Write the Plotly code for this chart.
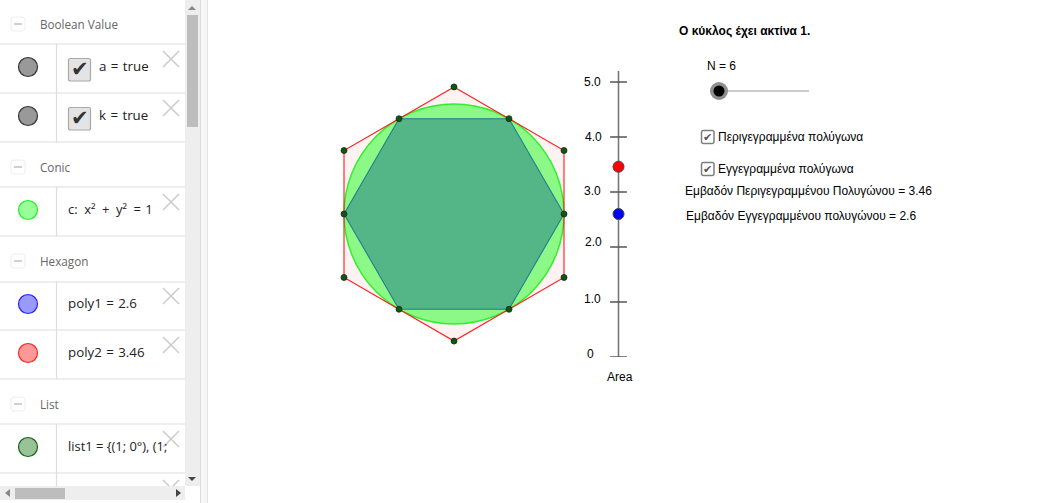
import plotly.graph_objects as go

# ---- data ----
radius = [1]
inner_x = [1, 0.5, -0.5, -1, -0.5, 0.5]
inner_y = [0, 0.866, 0.866, 0, -0.866, -0.866]
outer_x = [0, 1, 1, 0, -1, -1]
outer_y = [1.155, 0.577, -0.577, -1.155, -0.577, 0.577]
area_ticks = [0, 1, 2, 3, 4, 5]
area_tick_labels = ["0", "1.0", "2.0", "3.0", "4.0", "5.0"]
area_inscribed = [2.6]
area_circumscribed = [3.46]
area_axis_end = [0, 5.2]

section_titles = ["Boolean Value", "Conic", "Hexagon", "List"]
row_texts = ["a\u2004=\u2004true", "k\u2004=\u2004true", "c:\u2002x²\u2002+\u2002y²\u2002=\u20041",
             "poly1\u2004=\u20042.6", "poly2\u2004=\u20043.46", "list1 = {(1; 0°), (1;"]
panel_title = "Ο κύκλος έχει ακτίνα 1."
slider_label = "N = 6"
check_labels = ["Περιγεγραμμένα πολύγωνα", "Εγγεγραμμένα πολύγωνα"]
area_texts = ["Εμβαδόν Περιγεγραμμένου Πολυγώνου = 3.46", "Εμβαδόν Εγγεγραμμένου πολυγώνου = 2.6"]

# ---- layout constants (pixels) ----
W, H = 1042, 503
tick_label_px = [(590, 354), (592, 299), (593, 242), (592, 191), (593, 137), (592, 82)]
section_y = [23.5, 166.5, 260.5, 403.5]
row_y = [67, 116, 210, 304, 353, 447]
row_text_x = [99, 99, 68, 68, 68, 68]
row_text_size = [13.3, 13.3, 13, 13.3, 13.3, 12.9]
marble_fill = ["#999999", "#999999", "#99ff99", "#9999ff", "#ff9999", "#99c299"]
marble_line = ["#333333", "#333333", "#22ee22", "#2222ff", "#ff2222", "#116611"]
sep_y = [44, 93, 142, 187, 236, 282, 330, 379, 424, 473]
vsep = [(44, 142), (187, 236), (282, 379), (424, 486)]
cross_y = [59, 108, 202, 296, 345, 439]

shapes = []
ann = []


def rect(x0, y0, x1, y1, fill, line=None, lw=0):
    shapes.append(dict(type="rect", xref="x", yref="y", x0=x0, y0=y0, x1=x1, y1=y1,
                       fillcolor=fill, line=dict(color=line or fill, width=lw), layer="below"))


def rrect(x0, y0, x1, y1, r, fill, line, lw=1):
    p = (f"M{x0+r},{y0} L{x1-r},{y0} Q{x1},{y0} {x1},{y0+r} L{x1},{y1-r} Q{x1},{y1} {x1-r},{y1} "
         f"L{x0+r},{y1} Q{x0},{y1} {x0},{y1-r} L{x0},{y0+r} Q{x0},{y0} {x0+r},{y0} Z")
    shapes.append(dict(type="path", path=p, xref="x", yref="y", fillcolor=fill,
                       line=dict(color=line, width=lw), layer="below"))


def seg(x0, y0, x1, y1, color, w=1):
    shapes.append(dict(type="line", xref="x", yref="y", x0=x0, y0=y0, x1=x1, y1=y1,
                       line=dict(color=color, width=w), layer="below"))


def tri(pts, color):
    p = "M" + " L".join(f"{a},{b}" for a, b in pts) + " Z"
    shapes.append(dict(type="path", path=p, xref="x", yref="y", fillcolor=color,
                       line=dict(width=0), layer="below"))


def label(x, y, text, size, color="#000000", family="Liberation Sans", anchor="left"):
    ann.append(dict(xref="x", yref="y", x=x, y=y, text=text, showarrow=False, xanchor=anchor,
                    yanchor="middle", font=dict(size=size, color=color, family=family),
                    borderpad=0, borderwidth=0))


# ---- side panel ----
rect(185, 0, 200, 486, "#eeeeee")
rect(0, 486, 185, 500, "#eeeeee")
rect(201, 0, 207, H, "#f7f7f7")
seg(200.5, 0, 200.5, H, "#dddddd")
seg(207.5, 0, 207.5, H, "#e4e4e4")
rect(187, 15, 198, 127, "#bdbdbd")
rect(15, 488, 65, 499, "#bdbdbd")
tri([(188, 10), (196, 10), (192, 6)], "#888888")
tri([(188, 477), (196, 477), (192, 481)], "#444444")
tri([(10, 489), (10, 497), (5, 493)], "#888888")
tri([(176, 489), (176, 497), (181, 493)], "#444444")

for y in sep_y:
    seg(0, y, 185, y, "#dddddd", 1.2)
for a, b in vsep:
    seg(56.5, a, 56.5, b, "#dddddd", 1.2)
for y in cross_y:
    seg(163, y - 8, 179, y + 8, "#cccccc", 1.6)
    seg(179, y - 8, 163, y + 8, "#cccccc", 1.6)
seg(163, 480, 169, 486, "#cccccc", 1.6)
seg(179, 480, 173, 486, "#cccccc", 1.6)

for t, y in zip(section_titles, section_y):
    rrect(11, y - 6.5, 25, y + 7.5, 3, "#ffffff", "#eeeeee", 1)
    seg(14, y + 0.5, 22, y + 0.5, "#c4c4c4", 1.6)
    label(40, y, t, 11.7, "#666666", "Open Sans")

for y, f, l in zip(row_y, marble_fill, marble_line):
    shapes.append(dict(type="circle", xref="x", yref="y", x0=18.5, x1=37.5, y0=y - 9.5, y1=y + 9.5,
                       fillcolor=f, line=dict(color=l, width=1.2), layer="below"))

for y, x, t, s in zip(row_y, row_text_x, row_texts, row_text_size):
    label(x, y - 1, t, s, "#222222", "Open Sans")

for y in row_y[:2]:
    rrect(68.5, y - 8.5, 90.5, y + 14, 2, "#e4e4e4", "#aaaaaa", 1.2)
    label(79.5, y + 2, "✔", 21, "#333333", "DejaVu Sans", "center")

# ---- right-hand text and controls ----
label(679, 31, "<b>" + panel_title + "</b>", 12)
label(707, 66, slider_label, 12)
seg(710, 91, 809, 91, "#999999", 1)
for y, t in zip([137, 169], check_labels):
    rrect(701.5, y - 6.5, 714, y + 6.5, 2, "#ffffff", "#808080", 1.5)
    label(707.8, y, "✔", 11, "#555555", "DejaVu Sans", "center")
    label(718, y, t, 12)
label(685, 191, area_texts[0], 12)
label(686, 216, area_texts[1], 12)
label(619.5, 377, "Area", 12, anchor="center")
for (px, py), t in zip(tick_label_px, area_tick_labels):
    label(px, py, t, 12, anchor="center")

# ---- outer polygon fill, then circle, on the data axes x2/y2 ----
outer_path = "M" + " L".join(f"{a},{b}" for a, b in zip(outer_x, outer_y)) + " Z"
shapes.append(dict(type="path", path=outer_path, xref="x2", yref="y2",
                   fillcolor="rgba(255,0,0,0.05)", line=dict(width=0), layer="below"))
shapes.append(dict(type="circle", xref="x2", yref="y2", x0=-radius[0], x1=radius[0], y0=-radius[0], y1=radius[0],
                   fillcolor="rgba(0,255,0,0.45)", line=dict(color="#2ff02f", width=1.5), layer="below"))

fig = go.Figure()


def closed(v):
    return list(v) + [v[0]]


fig.add_trace(go.Scatter(x=closed(outer_x), y=closed(outer_y), xaxis="x2", yaxis="y2", mode="lines",
                         line=dict(color="#ff1a1a", width=1.1), hoverinfo="skip"))
fig.add_trace(go.Scatter(x=closed(inner_x), y=closed(inner_y), xaxis="x2", yaxis="y2", mode="lines",
                         fill="toself", fillcolor="rgba(0,80,135,0.4)", line=dict(color="#1f7f8f", width=1.1),
                         hoverinfo="skip"))
fig.add_trace(go.Scatter(x=outer_x + inner_x, y=outer_y + inner_y, xaxis="x2", yaxis="y2", mode="markers",
                         marker=dict(size=6, color="#0b5a0b", line=dict(color="#222222", width=0.8)),
                         hoverinfo="skip"))

# ---- area scale (axes x3/y3) ----
fig.add_trace(go.Scatter(x=[0, 0], y=area_axis_end, xaxis="x3", yaxis="y3", mode="lines",
                         line=dict(color="#777777", width=1.6), hoverinfo="skip"))
fig.add_trace(go.Scatter(x=[0] * len(area_ticks), y=area_ticks, xaxis="x3", yaxis="y3", mode="markers",
                         marker=dict(symbol="line-ew", size=12, line=dict(color="#555555", width=1.3)),
                         hoverinfo="skip"))
fig.add_trace(go.Scatter(x=[0], y=area_circumscribed, xaxis="x3", yaxis="y3", mode="markers",
                         marker=dict(size=11, color="#ff0000", line=dict(color="#444444", width=1)), hoverinfo="skip"))
fig.add_trace(go.Scatter(x=[0], y=area_inscribed, xaxis="x3", yaxis="y3", mode="markers",
                         marker=dict(size=11, color="#0000ff", line=dict(color="#444444", width=1)), hoverinfo="skip"))

# ---- slider knob ----
fig.add_trace(go.Scatter(x=[719], y=[91], mode="markers",
                         marker=dict(size=18, color="#8f8f8f", line=dict(width=0)), hoverinfo="skip"))
fig.add_trace(go.Scatter(x=[719], y=[91], mode="markers",
                         marker=dict(size=11, color="#000000", line=dict(width=0)), hoverinfo="skip"))


def dom_x(a, b):
    return [a / W, b / W]


def dom_y(top, bottom):
    return [1 - bottom / H, 1 - top / H]


hidden = dict(visible=False, fixedrange=True)
fig.update_layout(
    width=W, height=H, margin=dict(l=0, r=0, t=0, b=0), showlegend=False,
    paper_bgcolor="#ffffff", plot_bgcolor="rgba(0,0,0,0)",
    shapes=shapes, annotations=ann,
    xaxis=dict(range=[0, W], domain=[0, 1], **hidden),
    yaxis=dict(range=[H, 0], domain=[0, 1], **hidden),
    xaxis2=dict(range=[-1.5, 1.5], domain=dom_x(289, 619), anchor="y2", **hidden),
    yaxis2=dict(range=[-1.5, 1.5], domain=dom_y(49, 379), anchor="x2", **hidden),
    xaxis3=dict(range=[-1, 1], domain=dom_x(604.5, 632.5), anchor="y3", **hidden),
    yaxis3=dict(range=[0, 5.2], domain=dom_y(71, 357), anchor="x3", **hidden),
)
fig.write_html("out.html", config=dict(displayModeBar=False),
               post_script="document.body.style.margin='0';document.body.style.overflow='hidden';")
